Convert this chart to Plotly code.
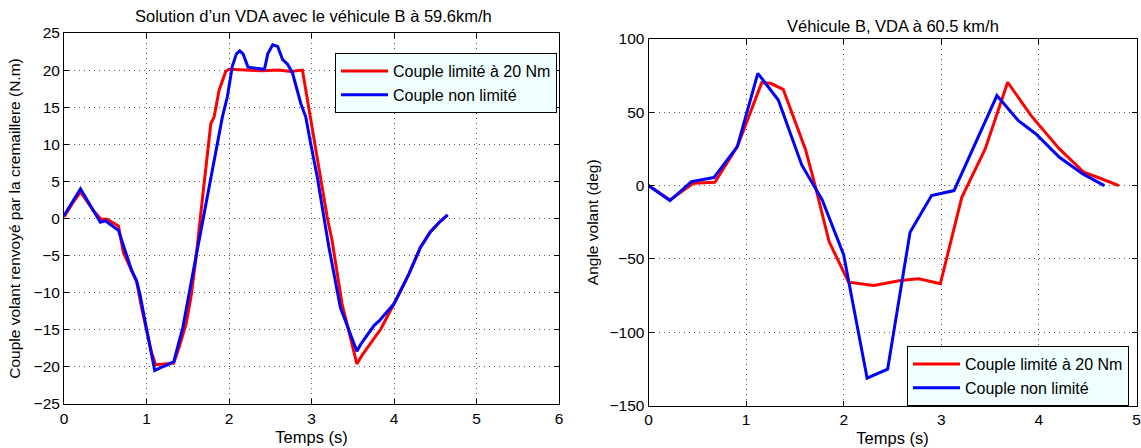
import plotly.graph_objects as go

# ---------------- Left chart: Couple volant ----------------
left_t_lim = [0, 0.1, 0.2, 0.28, 0.36, 0.45, 0.52, 0.6, 0.66, 0.72, 0.8, 0.88, 0.94, 1.0, 1.06, 1.11,
              1.2, 1.28, 1.33, 1.4, 1.48, 1.54, 1.6, 1.68, 1.74, 1.78, 1.82, 1.88, 1.96, 2.0, 2.2, 2.4,
              2.6, 2.75, 2.89, 2.93, 3.01, 3.11, 3.19, 3.25, 3.37, 3.47, 3.55, 3.62, 3.72, 3.84, 4.0,
              4.18, 4.32, 4.44, 4.55, 4.65]
left_y_lim = [0.2, 2.0, 3.6, 2.3, 1.0, -0.1, -0.1, -0.6, -1.0, -4.6, -6.5, -8.5, -12.0, -15.2, -18.0, -19.7,
              -19.6, -19.6, -19.5, -17.2, -14.2, -10.5, -5.3, 2.9, 9.2, 12.8, 13.7, 17.3, 19.8, 20.1, 20.0, 19.9,
              20.0, 19.8, 20.0, 17.3, 11.9, 5.6, 0.2, -3.0, -11.5, -16.0, -19.6, -18.3, -16.7, -14.9, -11.5,
              -7.5, -3.9, -1.8, -0.5, 0.5]

left_t_free = [0, 0.1, 0.2, 0.28, 0.36, 0.44, 0.5, 0.58, 0.66, 0.74, 0.82, 0.88, 0.92, 1.02, 1.1, 1.17,
               1.24, 1.33, 1.44, 1.56, 1.66, 1.76, 1.84, 1.92, 1.98, 2.04, 2.09, 2.13, 2.17, 2.23, 2.3,
               2.38, 2.43, 2.47, 2.53, 2.59, 2.65, 2.71, 2.77, 2.87, 2.93, 2.99, 3.07, 3.15, 3.21, 3.35,
               3.45, 3.55, 3.6, 3.68, 3.76, 3.82, 3.9, 4.0, 4.18, 4.32, 4.44, 4.55, 4.65]
left_y_free = [0.4, 2.2, 4.0, 2.5, 1.0, -0.5, -0.3, -1.0, -1.6, -4.3, -7.0, -8.4, -10.2, -16.0, -20.5, -20.1,
               -19.8, -19.3, -14.7, -7.5, -1.6, 4.3, 9.2, 13.7, 16.4, 20.5, 22.2, 22.6, 22.2, 20.4, 20.3,
               20.2, 20.1, 22.2, 23.4, 23.2, 21.4, 20.8, 19.6, 15.5, 13.7, 10.1, 5.6, 0.2, -3.8, -12.0,
               -15.1, -17.9, -16.9, -15.6, -14.4, -13.8, -12.8, -11.5, -7.5, -3.9, -1.8, -0.5, 0.5]

# ---------------- Right chart: Angle volant ----------------
right_t_lim = [0, 0.22, 0.46, 0.68, 0.91, 1.16, 1.25, 1.38, 1.61, 1.71, 1.85, 2.05, 2.31, 2.58, 2.77,
               2.99, 3.21, 3.45, 3.68, 3.92, 4.21, 4.46, 4.6, 4.82]
right_y_lim = [0, -9.8, 1.6, 2.3, 26.6, 70.2, 69.8, 65.7, 24.3, -0.7, -38.2, -65.9, -68.2, -64.8, -63.6,
               -67, -8.0, 25, 70.5, 47.7, 25, 9.1, 5.7, 0]

right_t_free = [0, 0.22, 0.44, 0.67, 0.91, 1.12, 1.33, 1.57, 1.78, 2.0, 2.24, 2.45, 2.68, 2.9, 3.13,
                3.57, 3.79, 3.97, 4.21, 4.45, 4.67]
right_y_free = [0, -10.2, 2.7, 5.5, 26.6, 76.6, 58.4, 14.1, -9.8, -47.3, -131.4, -125.2, -31.8, -6.8,
                -3.4, 61.4, 44.3, 35.2, 19.3, 8, 0]

name_lim = "Couple limité à 20 Nm"
name_free = "Couple non limité"
RED = "#ff0000"
BLUE = "#0000ff"
FONT = "Liberation Sans"
W, H = 1141, 448

fig = go.Figure()
fig.add_trace(go.Scatter(x=left_t_lim, y=left_y_lim, mode="lines", name=name_lim,
                         line=dict(color=RED, width=3), xaxis="x", yaxis="y", legend="legend"))
fig.add_trace(go.Scatter(x=left_t_free, y=left_y_free, mode="lines", name=name_free,
                         line=dict(color=BLUE, width=3), xaxis="x", yaxis="y", legend="legend"))
fig.add_trace(go.Scatter(x=right_t_lim, y=right_y_lim, mode="lines", name=name_lim,
                         line=dict(color=RED, width=3), xaxis="x2", yaxis="y2", legend="legend2"))
fig.add_trace(go.Scatter(x=right_t_free, y=right_y_free, mode="lines", name=name_free,
                         line=dict(color=BLUE, width=3), xaxis="x2", yaxis="y2", legend="legend2"))

axis_common = dict(showline=True, linecolor="black", linewidth=1, mirror="allticks",
                   ticks="inside", ticklen=5, tickcolor="black", showgrid=True,
                   gridcolor="#555555", gridwidth=1, griddash="1px,4px", zeroline=False,
                   automargin=False,
                   tickfont=dict(size=15.5, color="black", family=FONT))
xtitle_font = dict(size=16.5, color="black", family=FONT)
ytitle_font = dict(size=15.5, color="black", family=FONT)

legend_common = dict(xanchor="left", yanchor="top", bgcolor="#f0ffff",
                     bordercolor="black", borderwidth=1,
                     font=dict(size=16, family=FONT, color="black"),
                     itemwidth=47, tracegroupgap=0)

fig.update_layout(
    width=W, height=H,
    margin=dict(l=0, r=0, t=0, b=0),
    paper_bgcolor="white", plot_bgcolor="white",
    font=dict(family=FONT, color="black"),
    xaxis=dict(domain=[64 / W, 559 / W], range=[0, 6], dtick=1, anchor="y",
               title=dict(text="Temps (s)", standoff=5, font=xtitle_font), **axis_common),
    yaxis=dict(domain=[1 - 404 / H, 1 - 33 / H], range=[-25, 25], dtick=5, anchor="x",
               title=dict(text="Couple volant renvoyé par la cremaillere (N.m)", standoff=9,
                          font=ytitle_font), **axis_common),
    xaxis2=dict(domain=[648.5 / W, 1136.5 / W], range=[0, 5], dtick=1, anchor="y2",
                title=dict(text="Temps (s)", standoff=5, font=xtitle_font), **axis_common),
    yaxis2=dict(domain=[1 - 405.5 / H, 1 - 39 / H], range=[-150, 100], dtick=50, anchor="x2",
                title=dict(text="Angle volant (deg)", standoff=7, font=ytitle_font), **axis_common),
    legend=dict(x=335 / W, y=1 - 53 / H, **legend_common),
    legend2=dict(x=907 / W, y=1 - 346 / H, **legend_common),
    annotations=[
        dict(text="Solution d’un VDA avec le véhicule B à 59.6km/h", x=313 / W, y=1 - 16.5 / H,
             xref="paper", yref="paper", showarrow=False, xanchor="center", yanchor="middle",
             font=dict(size=16.5, family=FONT, color="black")),
        dict(text="Véhicule B, VDA à 60.5 km/h", x=893 / W, y=1 - 26.5 / H,
             xref="paper", yref="paper", showarrow=False, xanchor="center", yanchor="middle",
             font=dict(size=16.5, family=FONT, color="black")),
    ],
)

fig.write_html("out.html", config={"displayModeBar": False},
               post_script="document.body.style.margin='0';document.body.style.padding='0';")
